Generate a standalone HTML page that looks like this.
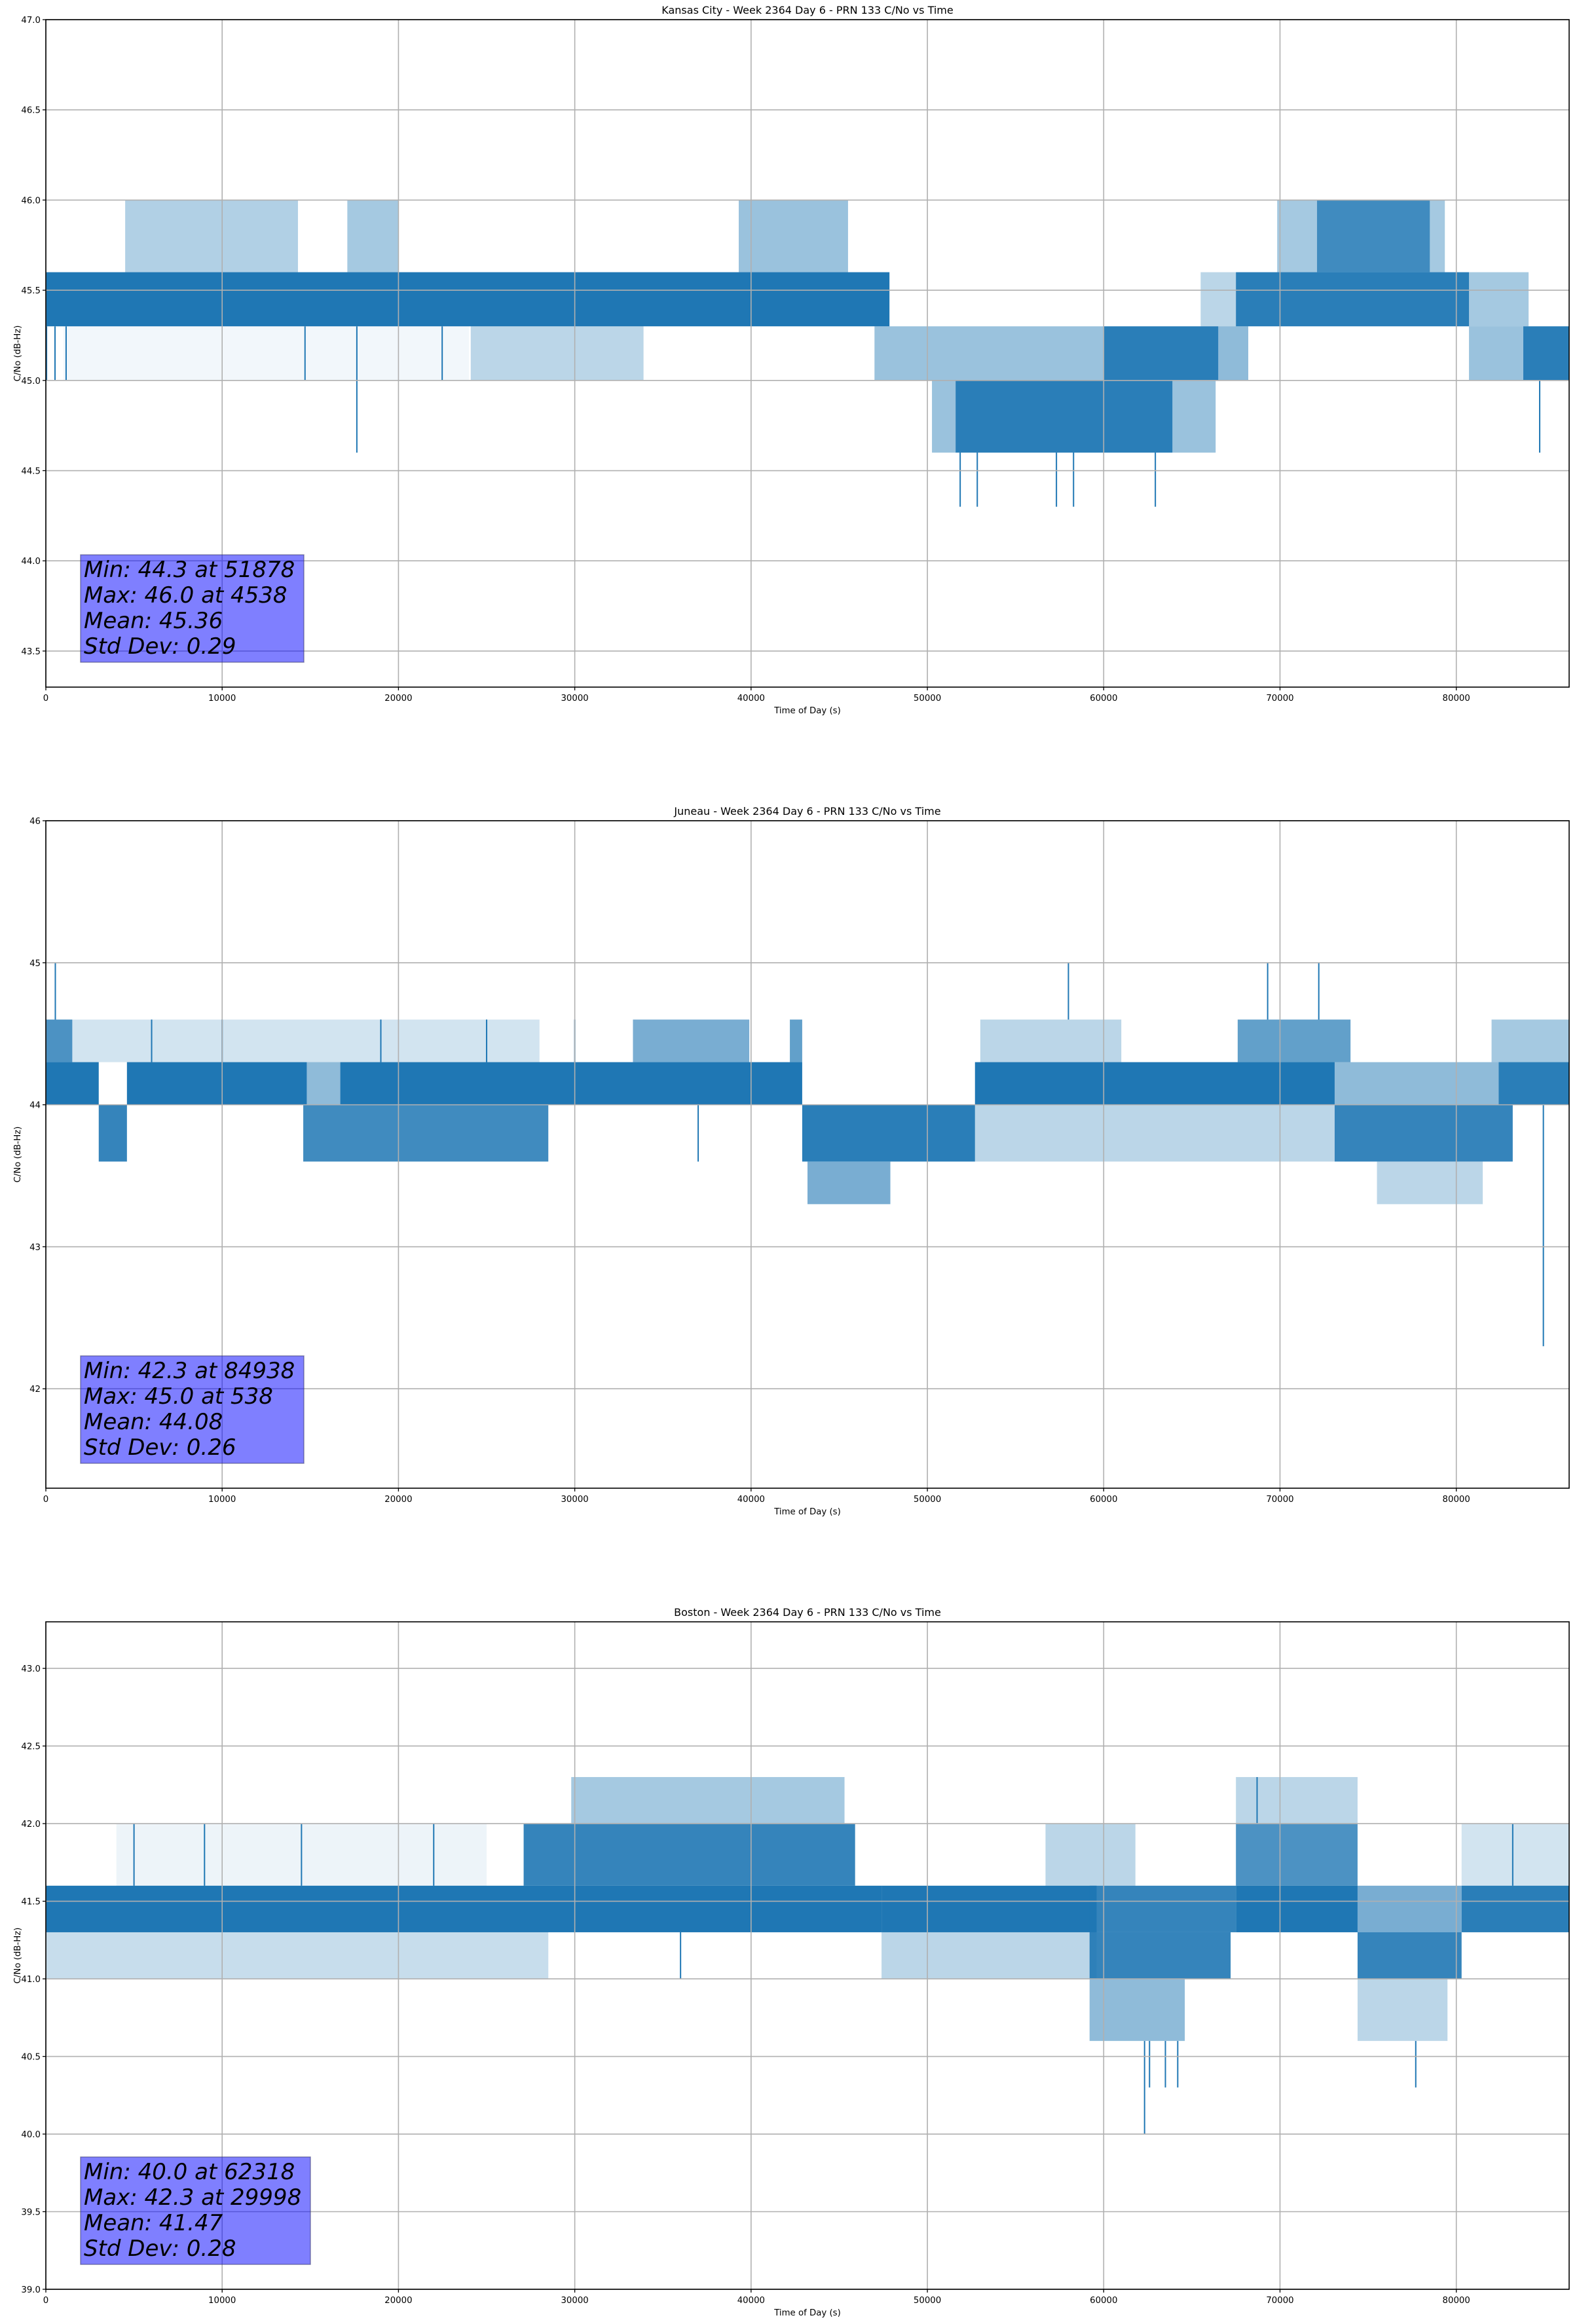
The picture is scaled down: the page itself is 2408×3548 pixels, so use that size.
<!DOCTYPE html>
<html><head><meta charset="utf-8"><style>
html,body{margin:0;padding:0;background:#fff;}
svg{display:block;font-family:"DejaVu Sans","Liberation Sans",sans-serif;}
</style></head><body>
<svg id="fig" width="2408" height="3548" viewBox="0 0 2408 3548" xmlns="http://www.w3.org/2000/svg">
<rect x="0" y="0" width="2408" height="3548" fill="#fff"/>
</svg>
<script>
// ---- Kansas City data ----
const kcBandStart   = [0,     4500,  17100, 39300, 24100, 47000, 60000, 66500, 50260, 51600, 63900, 65500, 67500, 80720, 69840, 72100, 78500, 80720, 83800, 1000];
const kcBandEnd     = [47850, 14300, 20000, 45500, 33900, 60000, 66500, 68200, 51600, 63900, 66350, 67500, 80720, 84100, 72100, 78500, 79350, 83800, 86400, 24000];
const kcBandLo      = [45.3,  45.6,  45.6,  45.6,  45.0,  45.0,  45.0,  45.0,  44.6,  44.6,  44.6,  45.3,  45.3,  45.3,  45.6,  45.6,  45.6,  45.0,  45.0,  45.0];
const kcBandHi      = [45.6,  46.0,  46.0,  46.0,  45.3,  45.3,  45.3,  45.3,  45.0,  45.0,  45.0,  45.6,  45.6,  45.6,  46.0,  46.0,  46.0,  45.3,  45.3,  45.3];
const kcBandDensity = [1,     0.35,  0.4,   0.45,  0.3,   0.45,  0.95,  0.5,   0.45,  0.95,  0.45,  0.3,   0.95,  0.4,   0.4,   0.85,  0.4,   0.45,  0.95,  0.06];
const kcSpikeT      = [40, 520, 1150, 14700, 17640, 22480, 51860, 52830, 57320, 58290, 62930, 84730];
const kcSpikeFrom   = [45.3,45.3,45.3,45.3, 45.3, 45.3, 44.6, 44.6, 44.6, 44.6, 44.6, 45.0];
const kcSpikeTo     = [45.0,45.0,45.0,45.0, 44.6, 45.0, 44.3, 44.3, 44.3, 44.3, 44.3, 44.6];
const kcYTicks      = [43.5,44.0,44.5,45.0,45.5,46.0,46.5,47.0];
const kcStats       = ["Min: 44.3 at 51878","Max: 46.0 at 4538","Mean: 45.36","Std Dev: 0.29"];

// ---- Juneau data ----
const juBandStart   = [0,    0,     3000, 4600,  14600, 16700, 33300, 42200, 42900, 43200, 52700, 52700, 53000, 67600, 73100, 73100, 75500, 82400, 82000, 14800, 1500];
const juBandEnd     = [1500, 3000,  4600, 14800, 28500, 42900, 39900, 42900, 52700, 47900, 73100, 73100, 61000, 74000, 83200, 82400, 81500, 86400, 86400, 16700, 28000];
const juBandLo      = [44.3, 44.0,  43.6, 44.0,  43.6,  44.0,  44.3,  44.3,  43.6,  43.3,  44.0,  43.6,  44.3,  44.3,  43.6,  44.0,  43.3,  44.0,  44.3,  44.0,  44.3];
const juBandHi      = [44.6, 44.3,  44.0, 44.3,  44.0,  44.3,  44.6,  44.6,  44.0,  43.6,  44.3,  44.0,  44.6,  44.6,  44.0,  44.3,  43.6,  44.3,  44.6,  44.3,  44.6];
const juBandDensity = [0.8,  1,     0.9,  1,     0.85,  1,     0.6,   0.7,   0.95,  0.6,   1,     0.3,   0.3,   0.7,   0.9,   0.5,   0.3,   0.95,  0.4,   0.5,   0.2];
const juSpikeT      = [538, 58000, 69300, 72200, 84938, 6000, 10000, 19000, 25000, 30000, 37000];
const juSpikeFrom   = [44.6, 44.6, 44.6, 44.6, 44.0, 44.3, 44.3, 44.3, 44.3, 44.3, 44.0];
const juSpikeTo     = [45.0, 45.0, 45.0, 45.0, 42.3, 44.6, 44.6, 44.6, 44.6, 44.6, 43.6];
const juYTicks      = [42,43,44,45,46];
const juStats       = ["Min: 42.3 at 84938","Max: 45.0 at 538","Mean: 44.08","Std Dev: 0.26"];

// ---- Boston data ----
const boBandStart   = [0,     27100, 29800, 0,     47400, 47400, 59200, 59200, 59200, 56700, 67500, 67500, 67500, 74400, 74400, 74400, 80300, 80300, 4000];
const boBandEnd     = [47400, 45900, 45300, 28500, 59600, 59600, 67500, 67200, 64600, 61800, 74400, 74400, 74400, 80300, 80300, 79500, 86400, 86400, 25000];
const boBandLo      = [41.3,  41.6,  42.0,  41.0,  41.3,  41.0,  41.3,  41.0,  40.6,  41.6,  41.3,  41.6,  42.0,  41.0,  41.3,  40.6,  41.3,  41.6,  41.6];
const boBandHi      = [41.6,  42.0,  42.3,  41.3,  41.6,  41.3,  41.6,  41.3,  41.0,  42.0,  41.6,  42.0,  42.3,  41.3,  41.6,  41.0,  41.6,  42.0,  42.0];
const boBandDensity = [1,     0.9,   0.4,   0.25,  1,     0.3,   0.9,   0.9,   0.5,   0.3,   1,     0.8,   0.3,   0.9,   0.6,   0.3,   0.95,  0.2,   0.08];
const boSpikeT      = [62318, 62600, 63500, 64200, 77700, 68700, 83200, 5000, 9000, 14500, 22000, 36000];
const boSpikeFrom   = [40.6,  40.6,  40.6,  40.6,  40.6,  42.0,  41.6,  41.6, 41.6, 41.6,  41.6,  41.3];
const boSpikeTo     = [40.0,  40.3,  40.3,  40.3,  40.3,  42.3,  42.0,  42.0, 42.0, 42.0,  42.0,  41.0];
const boYTicks      = [39.0,39.5,40.0,40.5,41.0,41.5,42.0,42.5,43.0];
const boStats       = ["Min: 40.0 at 62318","Max: 42.3 at 29998","Mean: 41.47","Std Dev: 0.28"];

const xTicks = [0,10000,20000,30000,40000,50000,60000,70000,80000];

const NS = "http://www.w3.org/2000/svg";
const fig = document.getElementById('fig');
function mk(tag, attrs, parent){ const e=document.createElementNS(NS,tag); for(const k in attrs) e.setAttribute(k,attrs[k]); (parent||fig).appendChild(e); return e; }

const L=70, R=2396, W=R-L, H=1019;

function drawChart(cfg){
  const g = mk('g',{});
  
  
  const top=cfg.top, bot=top+H;
  const xs = t => L + t/86400*W;
  const ys = v => bot - (v-cfg.ymin)/(cfg.ymax-cfg.ymin)*H;
  const dg = mk('g',{},g);
  
  
  for(let i=0;i<cfg.bs.length;i++){
    const r = mk('rect',{x:xs(cfg.bs[i]), y:ys(cfg.bh[i]), width:Math.max(1,xs(cfg.be[i])-xs(cfg.bs[i])), height:ys(cfg.bl[i])-ys(cfg.bh[i]), fill:'#1f77b4', 'fill-opacity':cfg.bd[i]}, dg);
    
    
  }
  for(let i=0;i<cfg.st.length;i++){
    const l = mk('line',{x1:xs(cfg.st[i]), x2:xs(cfg.st[i]), y1:ys(cfg.sf[i]), y2:ys(cfg.sv[i]), stroke:'#1f77b4','stroke-width':2}, dg);
    
    
  }
  for(const t of xTicks){
    const gl = mk('line',{x1:xs(t),x2:xs(t),y1:top,y2:bot,stroke:'#b0b0b0','stroke-width':1.6},g);
    
    
  }
  for(const v of cfg.yt){
    const gl = mk('line',{x1:L,x2:R,y1:ys(v),y2:ys(v),stroke:'#b0b0b0','stroke-width':1.6},g);
    
    
  }
  const fr = mk('rect',{x:L,y:top,width:W,height:H,fill:'none',stroke:'#000','stroke-width':1.6},g);
  
  
  for(const t of xTicks){
    mk('line',{x1:xs(t),x2:xs(t),y1:bot,y2:bot+5,stroke:'#000','stroke-width':1.3},g);
    const tx = mk('text',{x:xs(t),y:bot+21,'font-size':13.3,'text-anchor':'middle',fill:'#000'},g);
    tx.textContent = String(t);
    
    
  }
  for(const v of cfg.yt){
    mk('line',{x1:L-5,x2:L,y1:ys(v),y2:ys(v),stroke:'#000','stroke-width':1.3},g);
    const tx = mk('text',{x:L-8,y:ys(v)+5,'font-size':13.3,'text-anchor':'end',fill:'#000'},g);
    tx.textContent = cfg.dec ? v.toFixed(1) : String(v);
    
    
  }
  const ti = mk('text',{x:(L+R)/2,y:top-9,'font-size':16,'text-anchor':'middle',fill:'#000'},g);
  ti.textContent = cfg.title;
  
  
  const xl = mk('text',{x:(L+R)/2,y:bot+40,'font-size':13.3,'text-anchor':'middle',fill:'#000'},g);
  xl.textContent = 'Time of Day (s)';
  
  
  const yc = top+H/2;
  const yl = mk('text',{x:27,y:yc,'font-size':13.3,'text-anchor':'middle',fill:'#000','dominant-baseline':'middle',transform:'rotate(-90 27 '+yc+')'},g);
  yl.textContent = 'C/No (dB-Hz)';
  
  
  const sb = mk('g',{},g);
  
  
  mk('rect',{x:123,y:cfg.boxTop,width:cfg.boxW,height:164,fill:'rgba(0,0,255,0.5)',stroke:'rgba(60,60,110,0.55)','stroke-width':1.5},sb);
  cfg.stats.forEach((s,i)=>{
    const st = mk('text',{x:128,y:cfg.boxTop+34+i*39,'font-size':34,'font-style':'italic',fill:'#000'},sb);
    st.textContent = s;
    
    
  });
}

drawChart({name:'kansas-city',top:30,ymin:43.3,ymax:47.0,yt:kcYTicks,dec:true,
  title:'Kansas City - Week 2364 Day 6 - PRN 133 C/No vs Time',
  bs:kcBandStart,be:kcBandEnd,bl:kcBandLo,bh:kcBandHi,bd:kcBandDensity,
  st:kcSpikeT,sf:kcSpikeFrom,sv:kcSpikeTo,stats:kcStats,boxTop:847,boxW:341});
drawChart({name:'juneau',top:1253,ymin:41.3,ymax:46.0,yt:juYTicks,dec:false,
  title:'Juneau - Week 2364 Day 6 - PRN 133 C/No vs Time',
  bs:juBandStart,be:juBandEnd,bl:juBandLo,bh:juBandHi,bd:juBandDensity,
  st:juSpikeT,sf:juSpikeFrom,sv:juSpikeTo,stats:juStats,boxTop:2070,boxW:341});
drawChart({name:'boston',top:2476,ymin:39.0,ymax:43.3,yt:boYTicks,dec:true,
  title:'Boston - Week 2364 Day 6 - PRN 133 C/No vs Time',
  bs:boBandStart,be:boBandEnd,bl:boBandLo,bh:boBandHi,bd:boBandDensity,
  st:boSpikeT,sf:boSpikeFrom,sv:boSpikeTo,stats:boStats,boxTop:3293,boxW:351});
</script>
</body></html>
